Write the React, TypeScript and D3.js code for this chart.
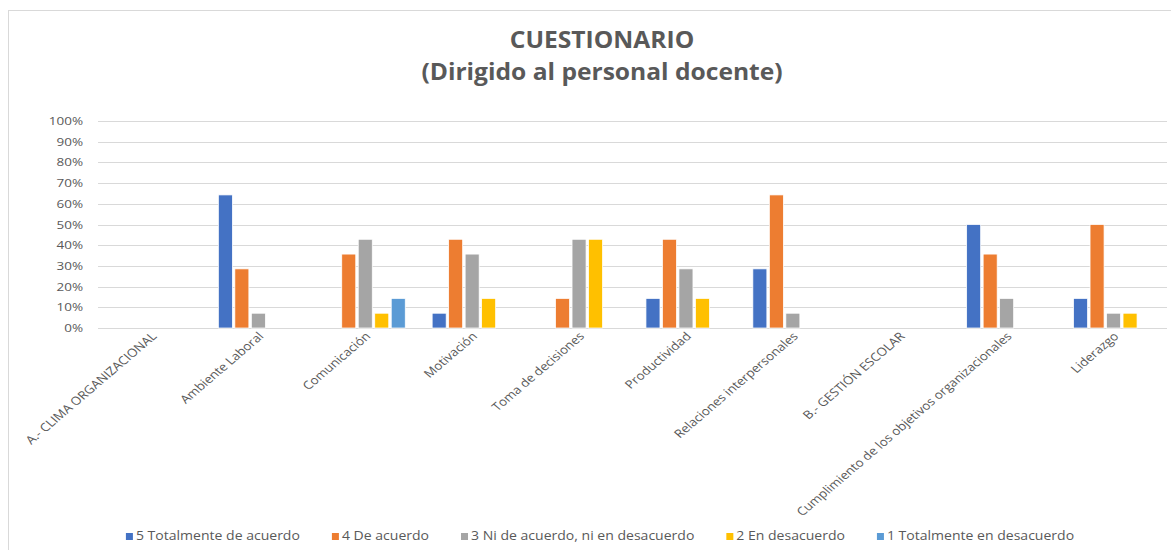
import React, { useRef, useEffect } from 'react'
import { select, scaleBand, scaleLinear } from 'd3'

const categories = [
  'A.- CLIMA ORGANIZACIONAL',
  'Ambiente Laboral',
  'Comunicación',
  'Motivación',
  'Toma de decisiones',
  'Productividad',
  'Relaciones interpersonales',
  'B.- GESTIÓN ESCOLAR',
  'Cumplimiento de los objetivos organizacionales',
  'Liderazgo',
]

const seriesNames = [
  '5 Totalmente de acuerdo',
  '4 De acuerdo',
  '3 Ni de acuerdo, ni en desacuerdo',
  '2 En desacuerdo',
  '1 Totalmente en desacuerdo',
]

// one value per category, in %
const totalmenteDeAcuerdo = [0, 64.29, 0, 7.14, 0, 14.29, 28.57, 0, 50, 14.29]
const deAcuerdo = [0, 28.57, 35.71, 42.86, 14.29, 42.86, 64.29, 0, 35.71, 50]
const niDeAcuerdo = [0, 7.14, 42.86, 35.71, 42.86, 28.57, 7.14, 0, 14.29, 7.14]
const enDesacuerdo = [0, 0, 7.14, 14.29, 42.86, 14.29, 0, 0, 0, 7.14]
const totalmenteEnDesacuerdo = [0, 0, 14.29, 0, 0, 0, 0, 0, 0, 0]

const seriesValues = [totalmenteDeAcuerdo, deAcuerdo, niDeAcuerdo, enDesacuerdo, totalmenteEnDesacuerdo]
const colors = ['#4472C4', '#ED7D31', '#A5A5A5', '#FFC000', '#5B9BD5']
const yTicks = [0, 10, 20, 30, 40, 50, 60, 70, 80, 90, 100]
const titleLines = ['CUESTIONARIO', '(Dirigido al personal docente)']

const W = 1171, H = 550
const plot = { left: 98, right: 1167, top: 121, bottom: 328 }
const SX = 1.17 // the reference is stretched horizontally
const FONT = '"Open Sans", sans-serif'
const TXT = '#595959'

export default function App() {
  const svgRef = useRef(null)

  useEffect(() => {
    const svg = select(svgRef.current)
    svg.selectAll('*').remove()

    svg.append('rect')
      .attr('x', 8.5).attr('y', 10.5)
      .attr('width', 1300).attr('height', 700)
      .attr('fill', '#fff').attr('stroke', '#D9D9D9')

    const x = scaleBand().domain(categories).range([plot.left, plot.right])
    const y = scaleLinear().domain([0, 100]).range([plot.bottom, plot.top])
    const groupW = 80
    const inner = scaleBand().domain(seriesNames).range([-groupW / 2, groupW / 2]).paddingInner(0.15)

    // title
    const title = svg.append('g').attr('font-family', FONT).attr('font-weight', 700)
      .attr('font-size', 23).attr('fill', TXT).attr('text-anchor', 'middle')
    titleLines.forEach((t, i) => {
      title.append('text')
        .attr('transform', `translate(602,${48 + i * 32}) scale(1.07,1)`)
        .text(t)
    })

    // grid + y labels
    const grid = svg.append('g')
    grid.selectAll('line').data(yTicks).join('line')
      .attr('x1', plot.left).attr('x2', plot.right)
      .attr('y1', d => Math.round(y(d)) + 0.5).attr('y2', d => Math.round(y(d)) + 0.5)
      .attr('stroke', '#D9D9D9').attr('stroke-width', 1)
    grid.selectAll('text').data(yTicks).join('text')
      .attr('transform', d => `translate(83,${y(d) + 4}) scale(${SX},1)`)
      .attr('text-anchor', 'end').attr('font-family', FONT).attr('font-size', 11.5)
      .attr('fill', TXT).text(d => d + '%')

    // bars
    const bars = svg.append('g')
    seriesNames.forEach((s, si) => {
      bars.append('g').attr('fill', colors[si])
        .selectAll('rect')
        .data(seriesValues[si].map((v, i) => ({ v, c: categories[i] })).filter(d => d.v > 0))
        .join('rect')
        .attr('x', d => (x(d.c) ?? 0) + x.bandwidth() / 2 + (inner(s) ?? 0))
        .attr('width', inner.bandwidth())
        .attr('y', d => y(d.v))
        .attr('height', d => y(0) - y(d.v))
        .attr('stroke', '#fff').attr('stroke-width', 0.75)
    })

    // category labels
    svg.append('g').selectAll('text').data(categories).join('text')
      .attr('transform', d => `translate(${(x(d) ?? 0) + x.bandwidth() / 2 + 6},${plot.bottom + 9}) scale(${SX},1) rotate(-45)`)
      .attr('text-anchor', 'end').attr('font-family', FONT).attr('font-size', 11.5)
      .attr('fill', TXT).text(d => d)

    // legend
    const legend = svg.append('g').attr('font-family', FONT).attr('font-size', 12).attr('fill', TXT)
    const items = legend.selectAll('g').data(seriesNames).join('g')
    items.append('rect').attr('width', 7).attr('height', 7).attr('y', -7)
      .attr('fill', (d, i) => colors[i])
    items.append('text').attr('transform', `translate(${10},0) scale(${SX},1)`).text(d => d)
    const widths = items.nodes().map(n => 10 + (n.querySelector('text') as SVGTextElement).getComputedTextLength() * SX)
    const gap = 32
    const total = widths.reduce((a, b) => a + b, 0) + gap * (widths.length - 1)
    let cx = 600 - total / 2
    items.attr('transform', (d, i) => {
      const t = `translate(${cx},540)`
      cx += widths[i] + gap
      return t
    })
  }, [])

  return (
    <div style={{ position: 'fixed', left: 0, top: 0 }}>
      <svg ref={svgRef} width={W} height={H} style={{ display: 'block', background: '#fff' }} />
    </div>
  )
}
